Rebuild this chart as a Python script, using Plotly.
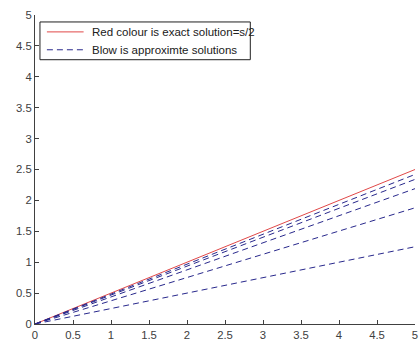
import plotly.graph_objects as go

# data
s = [0, 5]
exact = [0, 2.5]
approx_at_5 = [1.25, 1.88, 2.19, 2.34, 2.42]
xticks = [0, 0.5, 1, 1.5, 2, 2.5, 3, 3.5, 4, 4.5, 5]
yticks = [0, 0.5, 1, 1.5, 2, 2.5, 3, 3.5, 4, 4.5, 5]
legend_labels = ["Red colour is exact solution=s/2", "Blow is approximte solutions"]

RED = "#e04848"
BLUE = "#28288c"
DASH = "6px,4px"

W, H = 420, 343
ML, MR, MT, MB = 35, 2, 15, 17
PW, PH = W - ML - MR, H - MT - MB


def px(x):
    return (x - ML) / PW


def py(y):
    return (H - MB - y) / PH


fig = go.Figure()
fig.add_trace(go.Scatter(x=s, y=exact, mode="lines",
                         line=dict(color=RED, width=1),
                         name=legend_labels[0]))
for i, v in enumerate(approx_at_5):
    fig.add_trace(go.Scatter(x=s, y=[0, v], mode="lines",
                             line=dict(color=BLUE, width=1, dash=DASH),
                             name=legend_labels[1]))

axis_common = dict(showgrid=False, zeroline=False, showline=True,
                   linecolor="#404040", linewidth=1, ticks="inside",
                   ticklen=4, tickcolor="#404040", ticklabeloverflow="allow",
                   tickfont=dict(family="Liberation Sans, Arial", size=11.3, color="#404040"),
                   mirror=False)

# legend drawn as a box with sample lines and labels (layout decoration)
shapes = [
    dict(type="rect", xref="paper", yref="paper",
         x0=px(40), x1=px(252), y0=py(60), y1=py(22),
         line=dict(color="#202020", width=1), fillcolor="white", layer="above"),
    dict(type="line", xref="paper", yref="paper",
         x0=px(47), x1=px(84), y0=py(32), y1=py(32),
         line=dict(color=RED, width=1), layer="above"),
    dict(type="line", xref="paper", yref="paper",
         x0=px(47), x1=px(84), y0=py(50), y1=py(50),
         line=dict(color=BLUE, width=1, dash=DASH), layer="above"),
]
annotations = [
    dict(xref="paper", yref="paper", x=px(90), y=py(32), text=legend_labels[0],
         showarrow=False, xanchor="left", yanchor="middle",
         font=dict(family="Liberation Sans, Arial", size=11.5, color="#202020")),
    dict(xref="paper", yref="paper", x=px(90), y=py(50), text=legend_labels[1],
         showarrow=False, xanchor="left", yanchor="middle",
         font=dict(family="Liberation Sans, Arial", size=11.5, color="#202020")),
]

fig.update_layout(
    width=W, height=H,
    margin=dict(l=ML, r=MR, t=MT, b=MB),
    plot_bgcolor="white", paper_bgcolor="white",
    xaxis=dict(range=[0, 5], tickvals=xticks,
               ticktext=[str(t) for t in xticks], **axis_common),
    yaxis=dict(range=[0, 5], tickvals=yticks,
               ticktext=[str(t) for t in yticks], **axis_common),
    showlegend=False,
    shapes=shapes,
    annotations=annotations,
)

fig.write_html("out.html", config={"displayModeBar": False},
               post_script="document.body.style.margin='0';")
